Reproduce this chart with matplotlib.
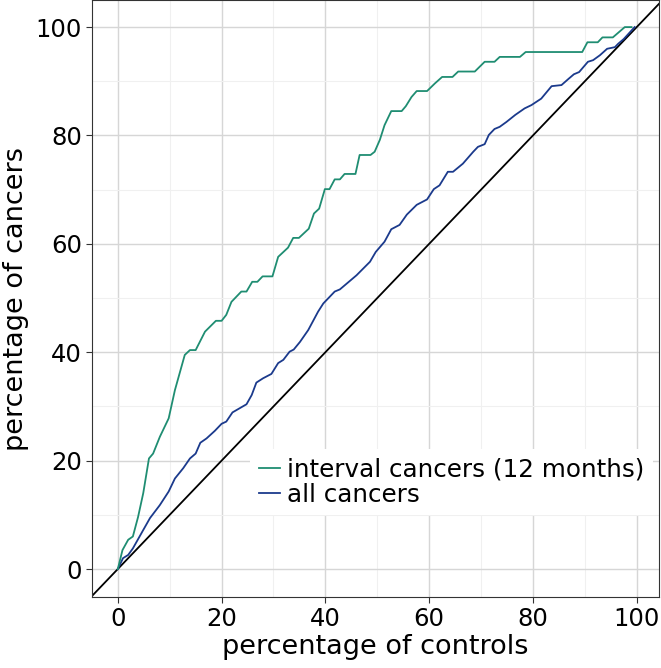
import matplotlib
matplotlib.use("Agg")
import matplotlib.pyplot as plt
from matplotlib.ticker import MultipleLocator

# interval cancers (12 months): percentage of controls vs percentage of cancers
interval_x = [0, 0.9, 2.0, 2.9, 3.9, 4.9, 6.0, 6.8, 8.1, 9.8, 11.0, 12.9, 13.9, 15.0,
              16.8, 18.9, 20.0, 20.9, 21.9, 23.8, 24.8, 25.9, 26.9, 27.9, 29.8, 30.9,
              32.8, 33.8, 34.9, 36.8, 37.8, 38.8, 39.9, 40.8, 41.8, 42.8, 43.7, 45.8,
              46.6, 48.7, 49.5, 50.5, 51.4, 52.7, 54.7, 55.5, 56.6, 57.6, 59.6, 61.1,
              62.5, 64.5, 65.6, 68.8, 70.7, 72.6, 73.6, 77.5, 78.6, 89.5, 90.5, 92.5,
              93.4, 95.4, 97.7, 99.0]
interval_y = [0, 3.5, 5.4, 6.0, 9.6, 14.0, 20.4, 21.3, 24.4, 27.8, 33.0, 39.5, 40.4, 40.4,
              43.8, 45.8, 45.8, 46.9, 49.3, 51.2, 51.2, 53.0, 53.0, 54.0, 54.0, 57.6,
              59.3, 61.1, 61.1, 62.8, 65.6, 66.5, 70.1, 70.1, 71.9, 71.9, 72.9, 72.9,
              76.4, 76.4, 77.0, 79.2, 81.9, 84.5, 84.5, 85.4, 87.1, 88.2, 88.2, 89.6,
              90.8, 90.8, 91.8, 91.8, 93.6, 93.6, 94.5, 94.5, 95.4, 95.4, 97.2, 97.2,
              98.1, 98.1, 100.0, 100.0]

# all cancers
all_x = [0, 1.0, 2.0, 2.9, 4.9, 6.2, 8.1, 9.8, 11.0, 12.6, 13.9, 15.0, 15.9, 17.1, 18.7,
         20.0, 20.9, 22.1, 24.8, 25.8, 26.7, 28.0, 29.6, 30.9, 31.9, 33.1, 33.9, 35.1,
         36.7, 38.6, 39.6, 41.8, 42.8, 46.0, 48.6, 49.7, 51.4, 52.7, 54.3, 55.7, 57.6,
         59.6, 60.9, 62.0, 63.6, 64.6, 66.5, 68.5, 69.4, 70.7, 71.5, 72.6, 73.6, 74.9,
         76.6, 78.4, 79.7, 81.6, 83.6, 85.5, 86.8, 87.9, 88.9, 90.6, 91.6, 92.9, 94.3,
         95.8, 96.4, 97.5, 99.6]
all_y = [0, 2.0, 2.6, 3.8, 7.2, 9.4, 11.8, 14.3, 16.7, 18.6, 20.4, 21.3, 23.3, 24.1, 25.5,
         26.8, 27.2, 28.9, 30.4, 32.1, 34.4, 35.2, 36.0, 38.0, 38.6, 40.1, 40.5, 41.9,
         44.1, 47.5, 49.0, 51.2, 51.6, 54.2, 56.7, 58.5, 60.4, 62.7, 63.5, 65.4, 67.2,
         68.2, 70.1, 70.8, 73.3, 73.3, 74.8, 77.0, 77.9, 78.4, 80.1, 81.2, 81.6, 82.5,
         83.8, 85.0, 85.6, 86.8, 89.1, 89.3, 90.4, 91.3, 91.7, 93.6, 93.9, 94.8, 96.0,
         96.3, 96.9, 97.8, 100.0]

ticks = [0, 20, 40, 60, 80, 100]

fig = plt.figure(figsize=(6.61, 6.68), dpi=100)
ax = fig.add_axes([0.139, 0.106, 0.858, 0.894])

# grid
ax.xaxis.set_major_locator(MultipleLocator(20))
ax.yaxis.set_major_locator(MultipleLocator(20))
ax.xaxis.set_minor_locator(MultipleLocator(10))
ax.yaxis.set_minor_locator(MultipleLocator(10))
ax.grid(which="major", color="#d6d6d6", linewidth=1.0)
ax.grid(which="minor", color="#f0f0f0", linewidth=0.8)
ax.set_axisbelow(True)

ax.axline((0, 0), slope=1, color="black", linewidth=1.3)
ax.plot(all_x, all_y, color="#1b3a8c", linewidth=1.3, label="all cancers")
ax.plot(interval_x, interval_y, color="#1f8d72", linewidth=1.3,
        label="interval cancers (12 months)")

ax.set_xlim(-5, 104.3)
ax.set_ylim(-5.2, 105)
ax.set_xticks(ticks)
ax.set_yticks(ticks)
ax.tick_params(which="major", labelsize=17.5, length=4, color="#333333",
               labelcolor="black", pad=3)
ax.tick_params(which="minor", length=0)
for s in ax.spines.values():
    s.set_color("#333333")

ax.set_xlabel("percentage of controls", fontsize=19.5, labelpad=2)
ax.set_ylabel("percentage of cancers", fontsize=19.5, labelpad=5)

h, l = ax.get_legend_handles_labels()
leg = ax.legend(h[::-1], l[::-1], loc="lower right", bbox_to_anchor=(0.99, 0.137),
                fontsize=17.7, frameon=True, framealpha=1, edgecolor="none",
                fancybox=False, handlelength=0.85, handletextpad=0.3,
                labelspacing=0.05, borderpad=0.35, borderaxespad=0)

fig.savefig("out.png", dpi=100)
